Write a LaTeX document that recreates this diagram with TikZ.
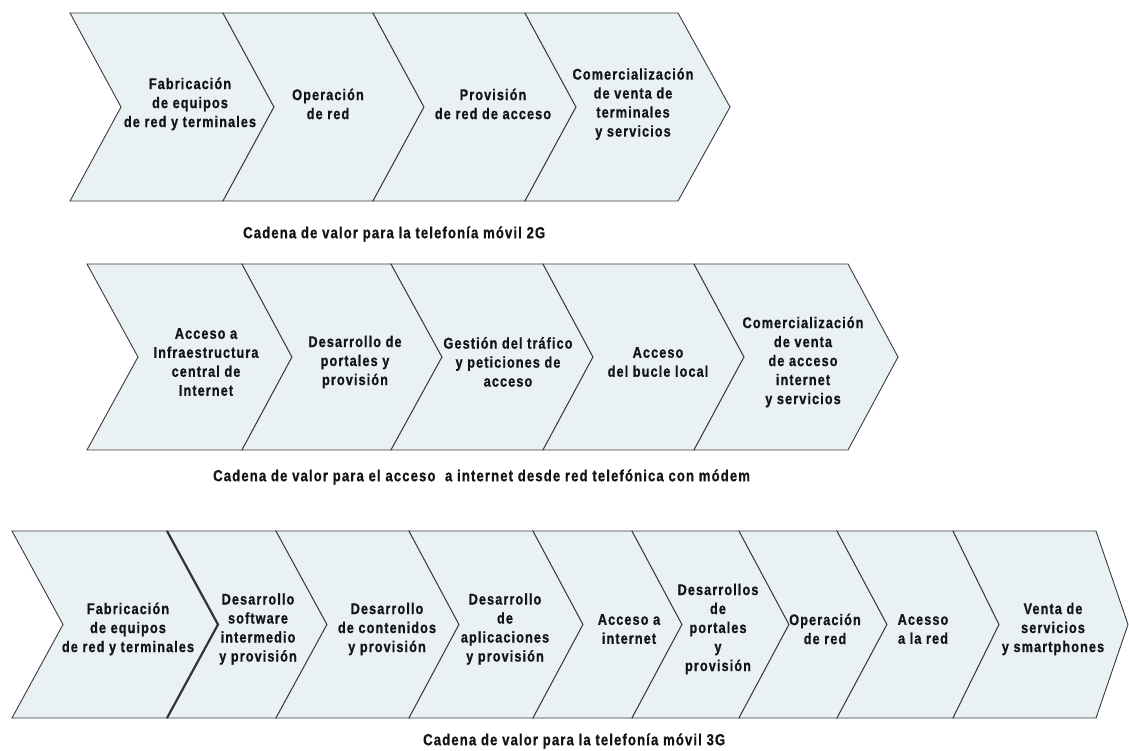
\documentclass[tikz,border=0pt]{standalone}
\usepackage{fontspec}
\newfontfamily\chfont[FakeStretch=0.82,LetterSpace=7,FakeBold=0.8]{Liberation Sans Bold}
\definecolor{chevfill}{HTML}{EAF1F5}
\definecolor{chevline}{HTML}{3A3A3A}
\definecolor{txtcol}{HTML}{141414}
\tikzset{
  chevshape/.style={fill=chevfill, draw=chevline, line width=0.9pt, line join=miter},
  thickedge/.style={draw=chevline!90!black, line width=2.2pt, line join=miter},
  steptext/.style={align=center, font=\chfont\fontsize{15.5}{19}\selectfont, text=txtcol, inner sep=0pt},
  chaincaption/.style={anchor=west, font=\chfont\fontsize{16}{18}\selectfont, text=txtcol, inner sep=0pt}
}
% \chevron{left top x}{left notch x}{right top x}{right tip x}{top y}{mid y}{bottom y}
\newcommand{\chevron}[7]{%
  \path[chevshape] (#1,#5) -- (#3,#5) -- (#4,#6) -- (#3,#7) -- (#1,#7) -- (#2,#6) -- cycle;}
\begin{document}
\begin{tikzpicture}[x=1pt,y=-1pt]
\useasboundingbox (0,0) rectangle (1129,751);
\fill[white] (0,0) rectangle (1129,751);

% ---- 2G mobile telephony chain ----
\chevron{70}{121}{223}{274}{13}{107}{201}
\chevron{223}{274}{373}{424}{13}{107}{201}
\chevron{373}{424}{525}{576}{13}{107}{201}
\chevron{525}{576}{678}{730}{13}{107}{201}

\node[steptext] (a1) at (190,104) {Fabricación\\de equipos\\de red y terminales};
\node[steptext] (a2) at (328,104) {Operación\\de red};
\node[steptext] (a3) at (493,104) {Provisión\\de red de acceso};
\node[steptext] (a4) at (633,104) {Comercialización\\de venta de\\terminales\\y servicios};
\node[chaincaption] (capA) at (243,234) {Cadena de valor para la telefonía móvil 2G};

% ---- dial-up internet access chain ----
\chevron{87}{138}{242}{292}{264}{357}{450}
\chevron{242}{292}{391}{442}{264}{357}{450}
\chevron{391}{442}{543}{593}{264}{357}{450}
\chevron{543}{593}{694}{744}{264}{357}{450}
\chevron{694}{744}{848}{898}{264}{357}{450}

\node[steptext] (b1) at (206,362) {Acceso a\\Infraestructura\\central de\\Internet};
\node[steptext] (b2) at (355,362) {Desarrollo de\\portales y\\provisión};
\node[steptext] (b3) at (508,362) {Gestión del tráfico\\y peticiones de\\acceso};
\node[steptext] (b4) at (658,362) {Acceso\\del bucle local};
\node[steptext] (b5) at (803,362) {Comercialización\\de venta\\de acceso\\internet\\y servicios};
\node[chaincaption] (capB) at (213,477) {Cadena de valor para el acceso~ a internet desde red telefónica con módem};

% ---- 3G mobile telephony chain ----
\chevron{12}{63}{167}{218}{531}{624.5}{718}
\chevron{167}{218}{276}{327}{531}{624.5}{718}
\chevron{276}{327}{409}{459}{531}{624.5}{718}
\chevron{409}{459}{533}{583}{531}{624.5}{718}
\chevron{533}{583}{632}{682}{531}{624.5}{718}
\chevron{632}{682}{739}{789}{531}{624.5}{718}
\chevron{739}{789}{837}{887}{531}{624.5}{718}
\chevron{837}{887}{953}{999}{531}{624.5}{718}
\chevron{953}{999}{1096}{1128}{531}{624.5}{718}
\draw[thickedge] (167,531) -- (218,624.5) -- (167,718);

\node[steptext] (c1) at (128,629) {Fabricación\\de equipos\\de red y terminales};
\node[steptext] (c2) at (258,629) {Desarrollo\\software\\intermedio\\y provisión};
\node[steptext] (c3) at (387,629) {Desarrollo\\de contenidos\\y provisión};
\node[steptext] (c4) at (505,629) {Desarrollo\\de\\aplicaciones\\y provisión};
\node[steptext] (c5) at (629,629) {Acceso a\\internet};
\node[steptext] (c6) at (718,629) {Desarrollos\\de\\portales\\y\\provisión};
\node[steptext] (c7) at (825,629) {Operación\\de red};
\node[steptext] (c8) at (923,629) {Acesso\\a la red};
\node[steptext] (c9) at (1053,629) {Venta de\\servicios\\y smartphones};
\node[chaincaption] (capC) at (423,741) {Cadena de valor para la telefonía móvil 3G};
\end{tikzpicture}
\end{document}
